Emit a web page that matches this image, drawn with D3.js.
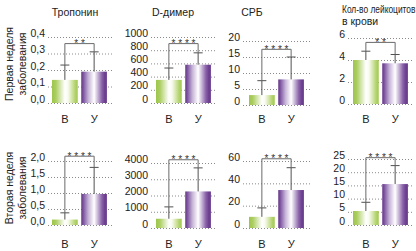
<!DOCTYPE html>
<html>
<head>
<meta charset="utf-8">
<script src="https://cdn.jsdelivr.net/npm/d3@7"></script>
<style>
  body { margin: 0; background: #fff; }
  svg { display: block; font-family: "Liberation Sans", Arial, sans-serif; }
</style>
</head>
<body>
<script>
// Data
const categories = ["В", "У"];
const rowTitles = [["Первая неделя", "заболевания"], ["Вторая неделя", "заболевания"]];
const colTitles = [["Тропонин"], ["D-димер"], ["СРБ"], ["Кол-во лейкоцитов", "в крови"]];

// week 1: means, upper ends of error bars, bracket heights, stars
const week1Means = [[0.14, 0.19], [350, 580], [3.1, 8.0], [4.0, 3.7]];
const week1Err = [[0.23, 0.31], [530, 760], [7.6, 15], [4.8, 4.5]];
const week1Bracket = [0.36, 900, 17.4, 5.6];
const week1Stars = ["**", "****", "****", "**"];

// week 2
const week2Means = [[0.17, 0.97], [570, 2250], [10, 34], [5.3, 15.5]];
const week2Err = [[0.38, 1.8], [1300, 3700], [18, 54], [8.6, 22.5]];
const week2Bracket = [2.15, 4200, 62, 25.5];
const week2Stars = ["****", "****", "****", "****"];

// axis ticks
const week1Ticks = [[0, 0.1, 0.2, 0.3, 0.4], [0, 200, 400, 600, 800, 1000], [0, 5, 10, 15, 20], [0, 2, 4, 6]];
const week2Ticks = [[0, 0.5, 1.0, 1.5, 2.0], [0, 1000, 2000, 3000, 4000], [0, 20, 40, 60], [0, 5, 10, 15, 20, 25]];
const decimalAxis = [true, false, false, false];

// Layout
const width = 416, height = 251;
const colX = [52, 156, 249, 353];         // left edge of first bar
const labelRight = [45, 148, 240, 345];    // right edge of tick labels
const rowY = [[[103, 37], [103, 37], [105, 41], [104, 38]],
              [[225, 161], [228, 163], [228, 161], [225, 159]]];
const catY = [123, 248];

const svg = d3.select("body").append("svg")
    .attr("width", width)
    .attr("height", height);

// Gradients for bars
const defs = svg.append("defs");
function gradient(id, stops) {
    const g = defs.append("linearGradient").attr("id", id)
        .attr("x1", 0).attr("x2", 1).attr("y1", 0).attr("y2", 0);
    stops.forEach(s => g.append("stop").attr("offset", s[0]).attr("stop-color", s[1]));
}
gradient("gGreen", [[0, "#9dc64a"], [0.15, "#acce62"], [0.5, "#ffffff"], [0.62, "#f8fbef"], [0.9, "#b2d36c"], [1, "#a3c952"]]);
gradient("gPurple", [[0, "#65348a"], [0.08, "#7d55a0"], [0.28, "#c7b5d8"], [0.5, "#ffffff"], [0.8, "#8a62aa"], [0.93, "#683a8c"], [1, "#7c549c"]]);
const fills = ["url(#gGreen)", "url(#gPurple)"];

const comma = d => d3.format(".1f")(d).replace(".", ",");

const weeks = [
    { means: week1Means, err: week1Err, bracket: week1Bracket, stars: week1Stars, ticks: week1Ticks },
    { means: week2Means, err: week2Err, bracket: week2Bracket, stars: week2Stars, ticks: week2Ticks }
];

weeks.forEach((wk, r) => {
    wk.means.forEach((vals, c) => {
        const ticks = wk.ticks[c];
        const x = d3.scaleBand().domain(categories)
            .range([colX[c], colX[c] + 55]).paddingInner(0.12);
        const y = d3.scaleLinear().domain([0, ticks[ticks.length - 1]]).range(rowY[r][c]);
        const g = svg.append("g");

        // Grid + tick labels
        const gridStart = labelRight[c] + 3;
        const gridEnd = colX[c] + 61;
        const axis = d3.axisLeft(y).tickValues(ticks)
            .tickSizeInner(-(gridEnd - gridStart)).tickSizeOuter(0)
            .tickPadding(3)
            .tickFormat(decimalAxis[c] ? comma : d3.format("d"));
        const ag = g.append("g").attr("transform", `translate(${gridStart},0)`).call(axis);
        ag.select(".domain").remove();
        ag.selectAll(".tick line").attr("stroke", "#8a8a8a").attr("stroke-dasharray", "1,2");
        ag.selectAll(".tick text").attr("dy", -1).attr("font-size", 10.5)
            .attr("fill", "#222").attr("font-family", null);

        // Bars
        g.selectAll("rect.bar").data(vals).join("rect")
            .attr("class", "bar")
            .attr("x", (d, i) => x(categories[i]))
            .attr("width", x.bandwidth())
            .attr("y", d => y(d))
            .attr("height", d => y(0) - y(d))
            .attr("fill", (d, i) => fills[i]);

        // Error bars
        const cx = i => x(categories[i]) + x.bandwidth() / 2;
        vals.forEach((v, i) => {
            const e = wk.err[c][i];
            g.append("line").attr("x1", cx(i)).attr("x2", cx(i))
                .attr("y1", y(v)).attr("y2", y(e)).attr("stroke", "#505050");
            g.append("line").attr("x1", cx(i) - 4.5).attr("x2", cx(i) + 4.5)
                .attr("y1", y(e)).attr("y2", y(e)).attr("stroke", "#505050");
        });

        // Significance bracket
        const by = y(wk.bracket[c]);
        g.append("path")
            .attr("d", `M${cx(0)},${y(wk.err[c][0])}V${by}H${cx(1)}V${y(wk.err[c][1])}`)
            .attr("fill", "none").attr("stroke", "#6a6a6a");
        g.append("text")
            .attr("x", (cx(0) + cx(1)) / 2).attr("y", by + 3.5)
            .attr("text-anchor", "middle").attr("font-size", 10).attr("fill", "#333")
            .text(wk.stars[c].split("").join(" "));

        // Category labels
        g.selectAll("text.cat").data(categories).join("text")
            .attr("class", "cat")
            .attr("x", d => x(d) + x.bandwidth() / 2)
            .attr("y", catY[r])
            .attr("text-anchor", "middle").attr("font-size", 11).attr("fill", "#222")
            .text(d => d);
    });
});

// Column titles
const titlePos = [[75, 16, "middle"], [173, 16, "middle"], [252, 16, "middle"], [342, 12.5, "start"]];
colTitles.forEach((lines, c) => {
    lines.forEach((t, k) => {
        const txt = svg.append("text")
            .attr("x", titlePos[c][0]).attr("y", titlePos[c][1] + k * 12)
            .attr("text-anchor", titlePos[c][2])
            .attr("font-size", 10.5).attr("fill", "#222")
            .text(t);
        // the long leukocyte title is drawn narrower so that it fits the right edge
        if (c === 3 && k === 0) {
            txt.attr("x", 0).attr("y", 0)
                .attr("transform", `translate(${titlePos[c][0]},${titlePos[c][1]}) scale(0.8,1)`);
        }
    });
});

// Row titles (rotated)
const rowCenter = [64, 188];
rowTitles.forEach((lines, r) => {
    lines.forEach((t, k) => {
        svg.append("text")
            .attr("transform", `translate(${13 + k * 13},${rowCenter[r]}) rotate(-90)`)
            .attr("text-anchor", "middle")
            .attr("font-size", 10.5).attr("fill", "#222")
            .text(t);
    });
});
</script>
</body>
</html>
